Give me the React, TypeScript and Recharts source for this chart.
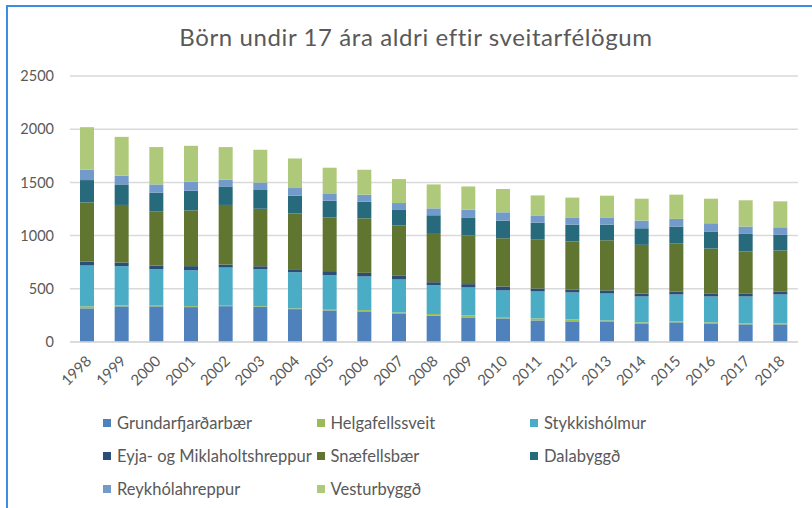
import React from 'react';
import { BarChart, Bar, XAxis, YAxis, CartesianGrid } from 'recharts';

const years = ['1998','1999','2000','2001','2002','2003','2004','2005','2006','2007','2008','2009','2010','2011','2012','2013','2014','2015','2016','2017','2018'];
const grundarfjardarbaer = [316,335,335,328,337,328,309,297,288,263,247,231,222,203,194,194,175,185,175,166,166];
const helgafellssveit = [19,9,12,9,10,9,7,6,12,15,16,19,12,19,19,9,10,9,10,9,9];
const stykkisholmur = [384,369,337,338,353,347,340,325,316,310,271,263,251,253,253,253,243,253,243,253,272];
const eyjaMiklaholts = [38,34,35,38,28,29,28,38,34,34,28,31,37,28,28,29,28,28,25,25,25];
const snaefellsbaer = [555,541,506,524,560,540,525,506,512,472,454,456,453,463,450,471,457,453,425,397,388];
const dalabyggd = [210,193,178,185,174,175,166,156,157,147,175,166,166,156,159,147,156,157,157,166,147];
const reykholahreppur = [97,82,78,84,63,72,72,63,65,65,65,78,78,63,63,63,72,72,81,69,71];
const vesturbyggd = [400,365,351,338,307,306,278,247,235,225,225,218,219,193,191,209,206,228,231,247,244];
const yTicks = [0, 500, 1000, 1500, 2000, 2500];

const title = 'Börn undir 17 ára aldri eftir sveitarfélögum';

const series = [
  { key: 'g', name: 'Grundarfjarðarbær', values: grundarfjardarbaer, color: '#4F81BD' },
  { key: 'h', name: 'Helgafellssveit', values: helgafellssveit, color: '#9BBB59' },
  { key: 's', name: 'Stykkishólmur', values: stykkisholmur, color: '#4BACC6' },
  { key: 'e', name: 'Eyja- og Miklaholtshreppur', values: eyjaMiklaholts, color: '#2C4D75' },
  { key: 'n', name: 'Snæfellsbær', values: snaefellsbaer, color: '#5F7530' },
  { key: 'd', name: 'Dalabyggð', values: dalabyggd, color: '#276A7C' },
  { key: 'r', name: 'Reykhólahreppur', values: reykholahreppur, color: '#729ACA' },
  { key: 'v', name: 'Vesturbyggð', values: vesturbyggd, color: '#AFC97A' },
];

const data = years.map((y, i) => {
  const row: Record<string, any> = { year: y };
  series.forEach((s) => { row[s.key] = s.values[i]; });
  return row;
});

const FONT = 'Lato, "Open Sans", sans-serif';
const GREY = '#595959';

const XTick = (props: any) => {
  const { x, y, payload } = props;
  return (
    <text
      x={x + 5}
      y={y + 12}
      transform={`rotate(-45 ${x + 5} ${y + 12})`}
      textAnchor="end"
      fill={GREY}
      fontSize={15}
      fontFamily={FONT}
    >
      {payload.value}
    </text>
  );
};

export default function App() {
  return (
    <div style={{ position: 'absolute', left: 0, top: 0, width: 812, height: 508, overflow: 'hidden', background: '#fff' }}>
      <div style={{ position: 'absolute', left: 6, top: 5, width: 900, height: 700, borderLeft: '2px solid #3C8DE3', borderTop: '2px solid #3C8DE3' }} />
      <div style={{ position: 'absolute', left: 0, top: 25, width: 832, textAlign: 'center', fontFamily: FONT, fontSize: 24, letterSpacing: 0.6, lineHeight: '24px', color: GREY, whiteSpace: 'nowrap' }}>
        {title}
      </div>
      <div style={{ position: 'absolute', left: 0, top: 0 }}>
        <BarChart width={812} height={508} data={data} margin={{ top: 76, right: 14, left: 0, bottom: 106 }} barSize={14}>
          <CartesianGrid vertical={false} stroke="#D9D9D9" strokeWidth={1.5} />
          <XAxis dataKey="year" interval={0} tickLine={false} axisLine={{ stroke: '#D9D9D9', strokeWidth: 1.5 }} height={60} tick={<XTick />} />
          <YAxis
            width={70}
            domain={[0, 2500]}
            ticks={yTicks}
            axisLine={false}
            tickLine={false}
            tickSize={0}
            tickMargin={16}
            tick={{ fill: GREY, fontSize: 14.5, fontFamily: FONT }}
          />
          {series.map((s) => (
            <Bar key={s.key} dataKey={s.key} name={s.name} stackId="a" fill={s.color} isAnimationActive={false} />
          ))}
        </BarChart>
      </div>
      {series.map((s, i) => {
        const col = i % 3;
        const row = Math.floor(i / 3);
        return (
          <div key={s.key} style={{ position: 'absolute', left: 103 + col * 213.5, top: 423 + row * 33 - 10, height: 20, display: 'flex', alignItems: 'center', fontFamily: FONT, fontSize: 16.5, color: GREY, whiteSpace: 'nowrap' }}>
            <span style={{ display: 'inline-block', width: 8, height: 8, background: s.color, marginRight: 6 }} />
            <span>{s.name}</span>
          </div>
        );
      })}
    </div>
  );
}
